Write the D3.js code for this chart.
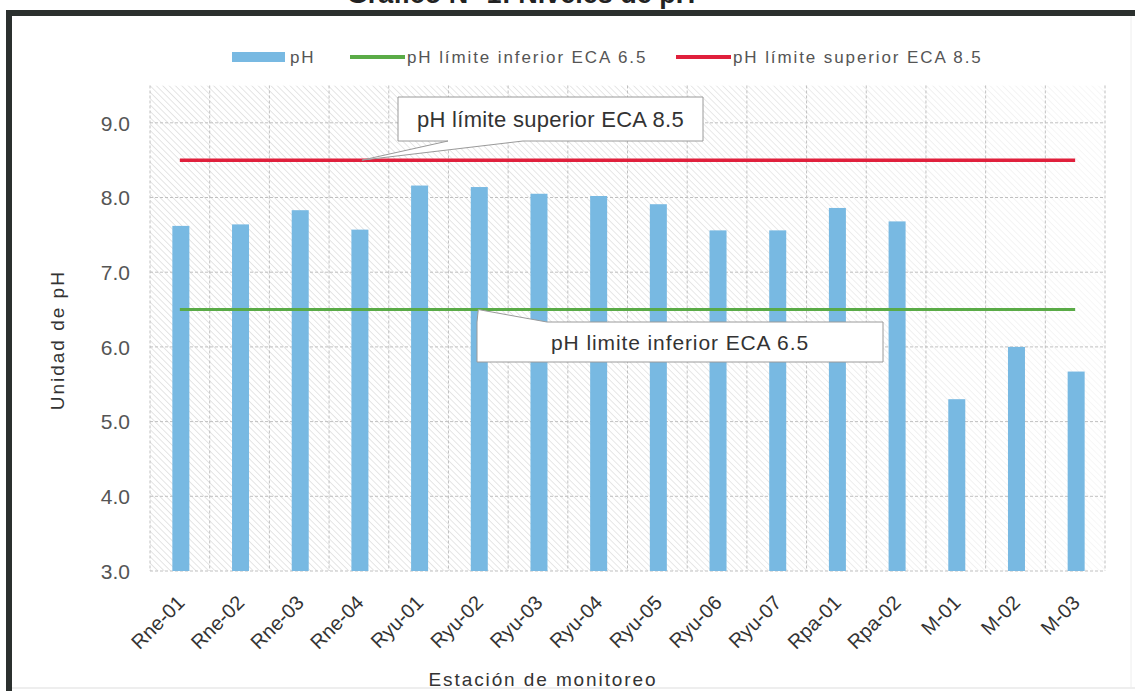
<!DOCTYPE html>
<html><head><meta charset="utf-8">
<script src="https://cdn.jsdelivr.net/npm/d3@7"></script>
<style>
html,body{margin:0;padding:0;background:#fff;}
svg{display:block;font-family:"Liberation Sans",Arial,sans-serif;}
</style></head>
<body>
<svg id="chart" width="1135" height="691"></svg>
<script>
const categories = ["Rne-01","Rne-02","Rne-03","Rne-04","Ryu-01","Ryu-02","Ryu-03","Ryu-04","Ryu-05","Ryu-06","Ryu-07","Rpa-01","Rpa-02","M-01","M-02","M-03"];
const phValues = [7.62,7.64,7.83,7.57,8.16,8.14,8.05,8.02,7.91,7.56,7.56,7.86,7.68,5.30,6.00,5.67];
const lowerLimit = categories.map(() => 6.5);
const upperLimit = categories.map(() => 8.5);
const yTicks = [3,4,5,6,7,8,9];
const seriesNames = ["pH","pH límite inferior ECA 6.5","pH límite superior ECA 8.5"];
const calloutUpper = "pH límite superior ECA 8.5";
const calloutLower = "pH limite inferior ECA 6.5";
const titleText = "Gráfico N° 1: Niveles de pH";
const yTitle = "Unidad de pH";
const xTitle = "Estación de monitoreo";

const svg = d3.select("#chart");
const m = {left:150, right:1105, top:87, bottom:571};
const x = d3.scaleBand().domain(categories).range([m.left, m.right]).paddingInner(0).paddingOuter(0);
const y = d3.scaleLinear().domain([3, 9.5]).range([m.bottom, m.bottom - 6.5*74.7]);

const barColor = "#78b9e2", green = "#5aab47", red = "#e0203c";

// defs: hatch pattern + fade mask
const defs = svg.append("defs");
const pat = defs.append("pattern").attr("id","hatch").attr("patternUnits","userSpaceOnUse")
  .attr("width",4.5).attr("height",4.5).attr("patternTransform","rotate(-45)");
pat.append("line").attr("x1",0).attr("y1",0).attr("x2",0).attr("y2",4.5)
  .attr("stroke","#bdbdbd").attr("stroke-width",0.8);
const grad = defs.append("linearGradient").attr("id","fade").attr("x1","0").attr("x2","1").attr("y1","0").attr("y2","0");
grad.append("stop").attr("offset","0").attr("stop-color","#fff").attr("stop-opacity",1);
grad.append("stop").attr("offset","0.55").attr("stop-color","#fff").attr("stop-opacity",0.9);
grad.append("stop").attr("offset","1").attr("stop-color","#fff").attr("stop-opacity",0.3);
const mask = defs.append("mask").attr("id","fademask");
mask.append("rect").attr("x",m.left).attr("y",y(9.5)).attr("width",m.right-m.left).attr("height",m.bottom-y(9.5)).attr("fill","url(#fade)");

// Title (cut off at top)
svg.append("text").attr("x",521).attr("y",3).attr("text-anchor","middle")
  .attr("font-size",27).attr("font-weight","bold").attr("fill","#222").text(titleText);

// Frame
svg.append("rect").attr("x",6).attr("y",10).attr("width",1135).attr("height",6).attr("fill","#2b302e");
svg.append("rect").attr("x",6).attr("y",10).attr("width",6).attr("height",691).attr("fill","#2b302e");
svg.append("line").attr("x1",12).attr("x2",1135).attr("y1",688).attr("y2",688).attr("stroke","#ddd").attr("stroke-width",1);
svg.append("line").attr("x1",1131).attr("x2",1131).attr("y1",16).attr("y2",688).attr("stroke","#eee").attr("stroke-width",1);

// plot background hatch
svg.append("rect").attr("x",m.left).attr("y",y(9.5)).attr("width",m.right-m.left).attr("height",m.bottom-y(9.5))
  .attr("fill","url(#hatch)").attr("mask","url(#fademask)");

// grid
const grid = svg.append("g").attr("stroke","#c0c0c0").attr("stroke-width",1).attr("stroke-dasharray","3,2");
grid.selectAll("line.h").data(yTicks).join("line").attr("class","h")
  .attr("x1",m.left).attr("x2",m.right).attr("y1",d=>y(d)).attr("y2",d=>y(d));
grid.selectAll("line.v").data(categories.concat(["__end"])).join("line").attr("class","v")
  .attr("x1",(d,i)=> i<categories.length ? x(d) : m.right)
  .attr("x2",(d,i)=> i<categories.length ? x(d) : m.right)
  .attr("y1",y(9.5)).attr("y2",m.bottom);

// y axis labels
const yAxis = d3.axisLeft(y).tickValues(yTicks).tickFormat(d3.format(".1f")).tickSize(0).tickPadding(20);
const yg = svg.append("g").attr("transform",`translate(${m.left},0)`).call(yAxis);
yg.select(".domain").remove();
yg.selectAll("text").attr("font-size",21).attr("fill","#555").attr("font-family","Liberation Sans, Arial, sans-serif").attr("dy","0.35em");

// bars
const bw = 17;
svg.append("g").selectAll("rect").data(phValues).join("rect")
  .attr("x",(d,i)=>x(categories[i]) + x.bandwidth()/2 - bw/2 + 1)
  .attr("width",bw)
  .attr("y",d=>y(d)).attr("height",d=>y(3)-y(d))
  .attr("fill",barColor);

// limit lines
const cx = i => x(categories[i]) + x.bandwidth()/2;
const line = d3.line().x((d,i)=>cx(i)).y(d=>y(d));
svg.append("path").datum(lowerLimit).attr("d",line).attr("fill","none").attr("stroke",green).attr("stroke-width",3);
svg.append("path").datum(upperLimit).attr("d",line).attr("fill","none").attr("stroke",red).attr("stroke-width",3.5);

// x axis labels
const xAxis = d3.axisBottom(x).tickSize(0).tickPadding(0);
const xg = svg.append("g").attr("transform",`translate(0,${m.bottom})`).call(xAxis);
xg.select(".domain").remove();
xg.selectAll("text").attr("font-size",20).attr("fill","#333").attr("font-family","Liberation Sans, Arial, sans-serif")
  .attr("text-anchor","end").attr("dy",null).attr("y",0)
  .attr("transform","translate(6,33) rotate(-45)");

// axis titles
svg.append("text").attr("transform",`translate(64,${(y(9.5)+m.bottom)/2 + 12}) rotate(-90)`)
  .attr("text-anchor","middle").attr("font-size",19).attr("fill","#333").attr("letter-spacing","2px").text(yTitle);
svg.append("text").attr("x",543).attr("y",686).attr("text-anchor","middle")
  .attr("font-size",19).attr("fill","#333").attr("letter-spacing","1.9px").text(xTitle);

// legend
const lg = svg.append("g").attr("font-size",17).attr("fill","#555").attr("letter-spacing","1.9px");
lg.append("rect").attr("x",232).attr("y",52).attr("width",53).attr("height",10).attr("fill",barColor);
lg.append("text").attr("x",290).attr("y",63).text(seriesNames[0]);
lg.append("line").attr("x1",350).attr("x2",405).attr("y1",57).attr("y2",57).attr("stroke",green).attr("stroke-width",4);
lg.append("text").attr("x",407).attr("y",63).text(seriesNames[1]);
lg.append("line").attr("x1",676).attr("x2",731).attr("y1",57).attr("y2",57).attr("stroke",red).attr("stroke-width",4);
lg.append("text").attr("x",733).attr("y",63).text(seriesNames[2]);

// callouts
function callout(x0,y0,x1,y1,tx,ty,side,b0,b1,text,fs,ls){
  let p;
  if(side==="bottom"){
    p = `M${x0},${y0}H${x1}V${y1}H${b1}L${tx},${ty}L${b0},${y1}H${x0}Z`;
  } else {
    p = `M${x0},${y1}V${y0}L${tx},${ty}L${b1},${y0}H${x1}V${y1}Z`;
  }
  svg.append("path").attr("d",p).attr("fill","#fff").attr("stroke","#9a9a9a").attr("stroke-width",1);
  svg.append("text").attr("x",(x0+x1)/2).attr("y",(y0+y1)/2).attr("dy","0.36em").attr("text-anchor","middle")
    .attr("font-size",fs).attr("letter-spacing",ls+"px").attr("fill","#333").text(text);
}
callout(398,97,703,141, cx(3)+3, y(8.5), "bottom", 448, 523, calloutUpper, 22, 0.3);
callout(477,322,883,362, cx(5), y(6.5), "top", 479, 547, calloutLower, 21, 0.9);
</script>
</body></html>
